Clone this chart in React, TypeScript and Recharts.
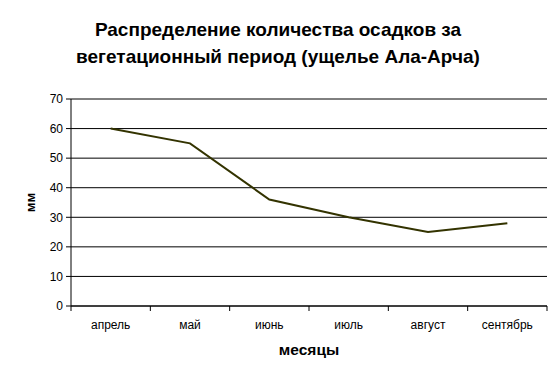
import React from 'react';
import { LineChart, Line, XAxis, YAxis, CartesianGrid, Label } from 'recharts';

const months = ['апрель', 'май', 'июнь', 'июль', 'август', 'сентябрь'];
const precipitation = [60, 55, 36, 30, 25, 28];
const yTicks = [0, 10, 20, 30, 40, 50, 60, 70];
const boundaryTicks = [0, 1, 2, 3, 4, 5, 6];
const centerTicks = [0.5, 1.5, 2.5, 3.5, 4.5, 5.5];

const data = months.map((m, i) => ({ x: i + 0.5, month: m, v: precipitation[i] }));

const font = '"Liberation Sans", Arial, sans-serif';

export default function App() {
  return (
    <div style={{ position: 'absolute', left: 0, top: 0, width: 560, height: 379, background: '#fff', fontFamily: font }}>
      <div
        style={{
          position: 'absolute',
          left: 0,
          top: 16,
          width: 556,
          textAlign: 'center',
          fontWeight: 'bold',
          fontSize: 19,
          lineHeight: '27px',
          color: '#000',
        }}
      >
        Распределение количества осадков за
        <br />
        вегетационный период (ущелье Ала-Арча)
      </div>
      <LineChart
        width={560}
        height={379}
        data={data}
        margin={{ top: 99, right: 13, left: 0, bottom: 0 }}
        style={{ position: 'absolute', left: 0, top: 0 }}
      >
        <CartesianGrid xAxisId="a" vertical={false} stroke="#000" strokeWidth={1} />
        <YAxis
          width={71}
          domain={[0, 70]}
          ticks={yTicks}
          interval={0}
          tickSize={5}
          tickMargin={3}
          axisLine={{ stroke: '#000' }}
          tickLine={{ stroke: '#000' }}
          tick={{ fill: '#000', fontSize: 12, fontFamily: font }}
        >
          <Label
            value="мм"
            angle={-90}
            position="insideLeft"
            offset={30}
            style={{ fontWeight: 'bold', fontSize: 13, fill: '#000', fontFamily: font, textAnchor: 'middle' }}
          />
        </YAxis>
        <XAxis
          xAxisId="a"
          dataKey="x"
          type="number"
          domain={[0, 6]}
          ticks={boundaryTicks}
          interval={0}
          height={8}
          tickSize={5}
          axisLine={{ stroke: '#000' }}
          tickLine={{ stroke: '#000' }}
          tickFormatter={() => ''}
        />
        <XAxis
          xAxisId="b"
          dataKey="x"
          type="number"
          domain={[0, 6]}
          ticks={centerTicks}
          interval={0}
          height={65}
          tickSize={0}
          tickMargin={6}
          axisLine={false}
          tickLine={false}
          tick={{ fill: '#000', fontSize: 12, fontFamily: font }}
          tickFormatter={(v: number) => months[Math.floor(v)]}
        />
        <Line
          xAxisId="a"
          dataKey="v"
          type="linear"
          stroke="#333300"
          strokeWidth={2}
          dot={false}
          isAnimationActive={false}
        />
      </LineChart>
      <div
        style={{
          position: 'absolute',
          left: 71,
          width: 476,
          top: 341,
          textAlign: 'center',
          fontWeight: 'bold',
          fontSize: 15.5,
          color: '#000',
        }}
      >
        месяцы
      </div>
    </div>
  );
}
